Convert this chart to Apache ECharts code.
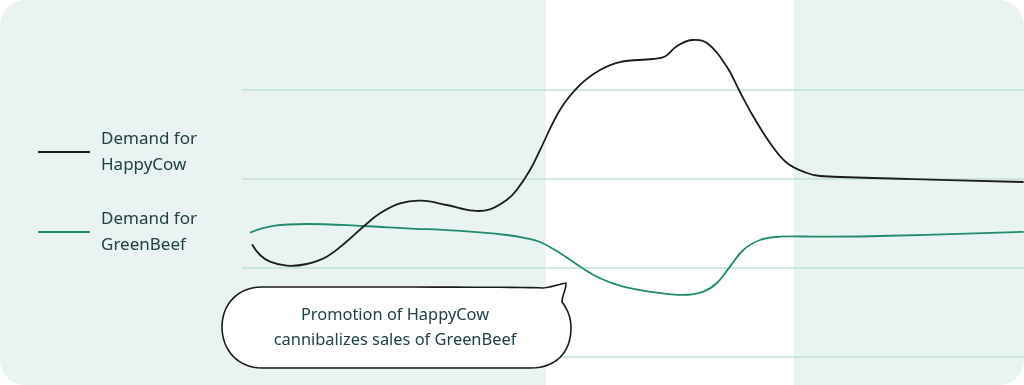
<!DOCTYPE html>
<html>
<head>
<meta charset="utf-8">
<script src="https://cdn.jsdelivr.net/npm/echarts@6/dist/echarts.min.js"></script>
<style>
html,body{margin:0;padding:0;background:#ffffff;}
#c{width:1024px;height:385px;}
</style>
</head>
<body>
<div id="c"></div>
<script>
// ---- data (x: time 0-100, y: demand level) ----
var seriesNames = ['Demand for HappyCow', 'Demand for GreenBeef'];
var happyCowX = [1.32, 2.30, 3.58, 5.72, 8.27, 10.83, 13.39, 15.51, 17.65, 20.20, 22.98, 26.18, 29.58, 31.71, 33.85, 35.13, 36.83, 38.11, 40.66, 43.22, 45.78, 48.34, 52.56, 54.09, 55.63, 57.54, 59.46, 62.02, 63.68, 65.35, 67.52, 69.69, 72.25, 73.91, 85.81, 99.87];
var happyCowY = [1.255, 1.143, 1.068, 1.023, 1.042, 1.124, 1.294, 1.460, 1.610, 1.722, 1.751, 1.703, 1.639, 1.655, 1.759, 1.871, 2.095, 2.319, 2.768, 3.048, 3.216, 3.305, 3.339, 3.367, 3.485, 3.552, 3.518, 3.249, 2.969, 2.700, 2.398, 2.174, 2.062, 2.028, 1.994, 1.961];
var greenBeefX = [1.11, 4.00, 8.27, 15.51, 21.06, 27.46, 33.85, 36.41, 38.11, 40.66, 43.22, 45.78, 48.76, 52.17, 56.43, 58.99, 60.70, 62.40, 64.10, 66.24, 68.80, 73.91, 81.59, 99.87];
var greenBeefY = [1.397, 1.468, 1.490, 1.468, 1.442, 1.415, 1.367, 1.330, 1.289, 1.165, 1.014, 0.882, 0.788, 0.732, 0.695, 0.732, 0.826, 1.012, 1.199, 1.311, 1.348, 1.348, 1.356, 1.401];
var promoPeriod = [38.87, 70.59];
var calloutText = ['Promotion of HappyCow', 'cannibalizes sales of GreenBeef'];

function pairs(xs, ys) { return xs.map(function (x, i) { return [x, ys[i]]; }); }

// callout outline built from bezier segments (annotation only)
function bubblePoints() {
  var pts = [];
  function line(x, y) { pts.push([x, y]); }
  function cubic(p0, p1, p2, p3) {
    for (var i = 1; i <= 16; i++) {
      var t = i / 16, u = 1 - t;
      pts.push([
        u*u*u*p0[0] + 3*u*u*t*p1[0] + 3*u*t*t*p2[0] + t*t*t*p3[0],
        u*u*u*p0[1] + 3*u*u*t*p1[1] + 3*u*t*t*p2[1] + t*t*t*p3[1]
      ]);
    }
  }
  line(262, 287);
  cubic([262, 287], [420, 287], [520, 287], [543, 288]);
  cubic([543, 288], [552, 287], [560, 284], [566, 283]);
  cubic([566, 283], [566, 290], [562, 296], [562, 302]);
  cubic([562, 302], [568, 310], [571, 318], [571, 328]);
  cubic([571, 328], [571, 352], [556, 368], [531, 368]);
  line(262, 368);
  cubic([262, 368], [238, 368], [222, 350], [222, 327]);
  cubic([222, 327], [222, 304], [238, 287], [262, 287]);
  return pts;
}

// smooth curve through all points of a series, positioned by the axes (api.coord)
function curveRenderer(color) {
  return function (params, api) {
    if (params.dataIndex !== 0) return null;
    var n = params.dataInsideLength;
    var pts = [];
    for (var i = 0; i < n; i++) pts.push(api.coord([api.value(0, i), api.value(1, i)]));
    return {
      type: 'polyline',
      shape: {points: pts, smooth: 0.4},
      style: {stroke: color, lineWidth: 1.8, fill: null, lineJoin: 'round', lineCap: 'round'}
    };
  };
}

var FONT = '"Noto Sans", "Open Sans", sans-serif';
var TEXT = '#1f4148';
var BLACK = '#1c1c1c', GREEN = '#208b6d';

var chart = echarts.init(document.getElementById('c'), null, {renderer: 'canvas'});
chart.setOption({
  animation: false,
  backgroundColor: 'transparent',
  grid: {left: 242, right: 0, top: 0, bottom: 28},
  xAxis: {type: 'value', min: 0, max: 100, show: false},
  yAxis: {
    type: 'value', min: 0, max: 4, interval: 1,
    axisLine: {show: false}, axisTick: {show: false}, axisLabel: {show: false},
    splitLine: {show: true, showMaxLine: false, lineStyle: {color: '#c2e2d6', width: 1.5}}
  },
  legend: {
    orient: 'vertical', left: 33, top: 121, itemGap: 28,
    icon: 'rect', itemWidth: 52, itemHeight: 2,
    selectedMode: false,
    data: seriesNames,
    formatter: function (n) { return n.replace(' for ', ' for\n'); },
    textStyle: {fontFamily: FONT, fontSize: 17, color: TEXT, lineHeight: 26, padding: [0, 0, 0, 6]}
  },
  series: [
    {name: seriesNames[0], type: 'custom', data: pairs(happyCowX, happyCowY), encode: {x: 0, y: 1}, z: 4,
     itemStyle: {color: BLACK}, renderItem: curveRenderer(BLACK)},
    {name: seriesNames[1], type: 'custom', data: pairs(greenBeefX, greenBeefY), encode: {x: 0, y: 1}, z: 3,
     itemStyle: {color: GREEN}, renderItem: curveRenderer(GREEN)}
  ]
});

var bx0 = chart.convertToPixel({xAxisIndex: 0}, promoPeriod[0]);
var bx1 = chart.convertToPixel({xAxisIndex: 0}, promoPeriod[1]);
chart.setOption({
  graphic: [
    {type: 'rect', z: -10, silent: true, shape: {x: 0, y: 0, width: 1024, height: 385, r: 25}, style: {fill: '#e9f3f1'}},
    {type: 'rect', z: -9, silent: true, shape: {x: bx0, y: 0, width: bx1 - bx0, height: 385}, style: {fill: '#ffffff'}},
    {type: 'polygon', z: 50, silent: true, shape: {points: bubblePoints()},
     style: {fill: '#ffffff', stroke: '#1a1a1a', lineWidth: 1.6, lineJoin: 'round'}},
    {type: 'text', z: 51, silent: true, x: 395, y: 328,
     style: {text: calloutText.join('\n'), fontFamily: FONT, fontSize: 16.4, lineHeight: 25, fill: TEXT, align: 'center', verticalAlign: 'middle'}}
  ]
});
</script>
</body>
</html>
